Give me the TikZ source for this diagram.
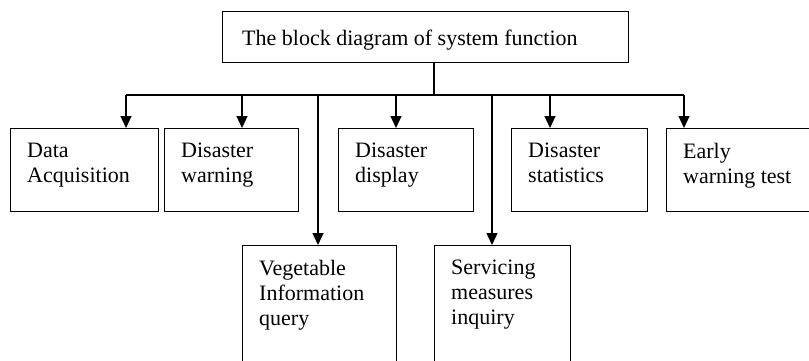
\documentclass[tikz,border=0pt]{standalone}
\usepackage{fontspec}
\setmainfont{Liberation Serif}
\usetikzlibrary{arrows.meta,calc}
\begin{document}
\begin{tikzpicture}[x=1pt,y=-1pt,
  box/.style={draw, line width=1.3pt, rectangle, inner sep=0pt, anchor=north west},
  txt/.style={inner sep=0pt, anchor=north west, align=left, font=\fontsize{22}{25}\selectfont},
  link/.style={line width=1.3pt},
  arr/.style={line width=1.3pt, -{Triangle[length=12pt,width=11pt]}}]
\useasboundingbox (0,0) rectangle (809,360);
\clip (0,0) rectangle (809,360);
% top box
\node[box, minimum width=406pt, minimum height=51pt] (top) at (222,11) {};
\node[txt] (topT) at (242,30) {The block diagram of system function};
% row 1
\node[box, minimum width=148pt, minimum height=83pt] (da) at (10,128) {};
\node[txt] (daT) at (27,143) {Data\\Acquisition};
\node[box, minimum width=134pt, minimum height=83pt] (dw) at (164,128) {};
\node[txt] (dwT) at (181,143) {Disaster\\warning};
\node[box, minimum width=135pt, minimum height=83pt] (dd) at (338,128) {};
\node[txt] (ddT) at (355,143) {Disaster\\display};
\node[box, minimum width=136pt, minimum height=83pt] (ds) at (511,128) {};
\node[txt] (dsT) at (528,143) {Disaster\\statistics};
\node[box, minimum width=150pt, minimum height=83pt] (ew) at (666,128) {};
\node[txt] (ewT) at (683,143) {Early\\warning test};
% row 2
\node[box, minimum width=154pt, minimum height=125pt] (vq) at (242,245) {};
\node[txt] (vqT) at (259,260) {Vegetable\\Information\\query};
\node[box, minimum width=136pt, minimum height=125pt] (sm) at (434,245) {};
\node[txt] (smT) at (451,260) {Servicing\\measures\\inquiry};
% bus
\coordinate (busC) at (434,95);
\coordinate (busL) at (126,95);
\coordinate (busR) at (684,95);
\coordinate (b2) at (242,95);
\coordinate (b3) at (318,95);
\coordinate (b4) at (396,95);
\coordinate (b5) at (492,95);
\coordinate (b6) at (550,95);
\draw[link] (top.south -| busC) -- (busC);
\draw[link] (busL) -- (busR);
\draw[arr] (busL) -- (busL |- da.north);
\draw[arr] (b2) -- (b2 |- dw.north);
\draw[arr] (b3) -- (b3 |- vq.north);
\draw[arr] (b4) -- (b4 |- dd.north);
\draw[arr] (b5) -- (b5 |- sm.north);
\draw[arr] (b6) -- (b6 |- ds.north);
\draw[arr] (busR) -- (busR |- ew.north);
\end{tikzpicture}
\end{document}
